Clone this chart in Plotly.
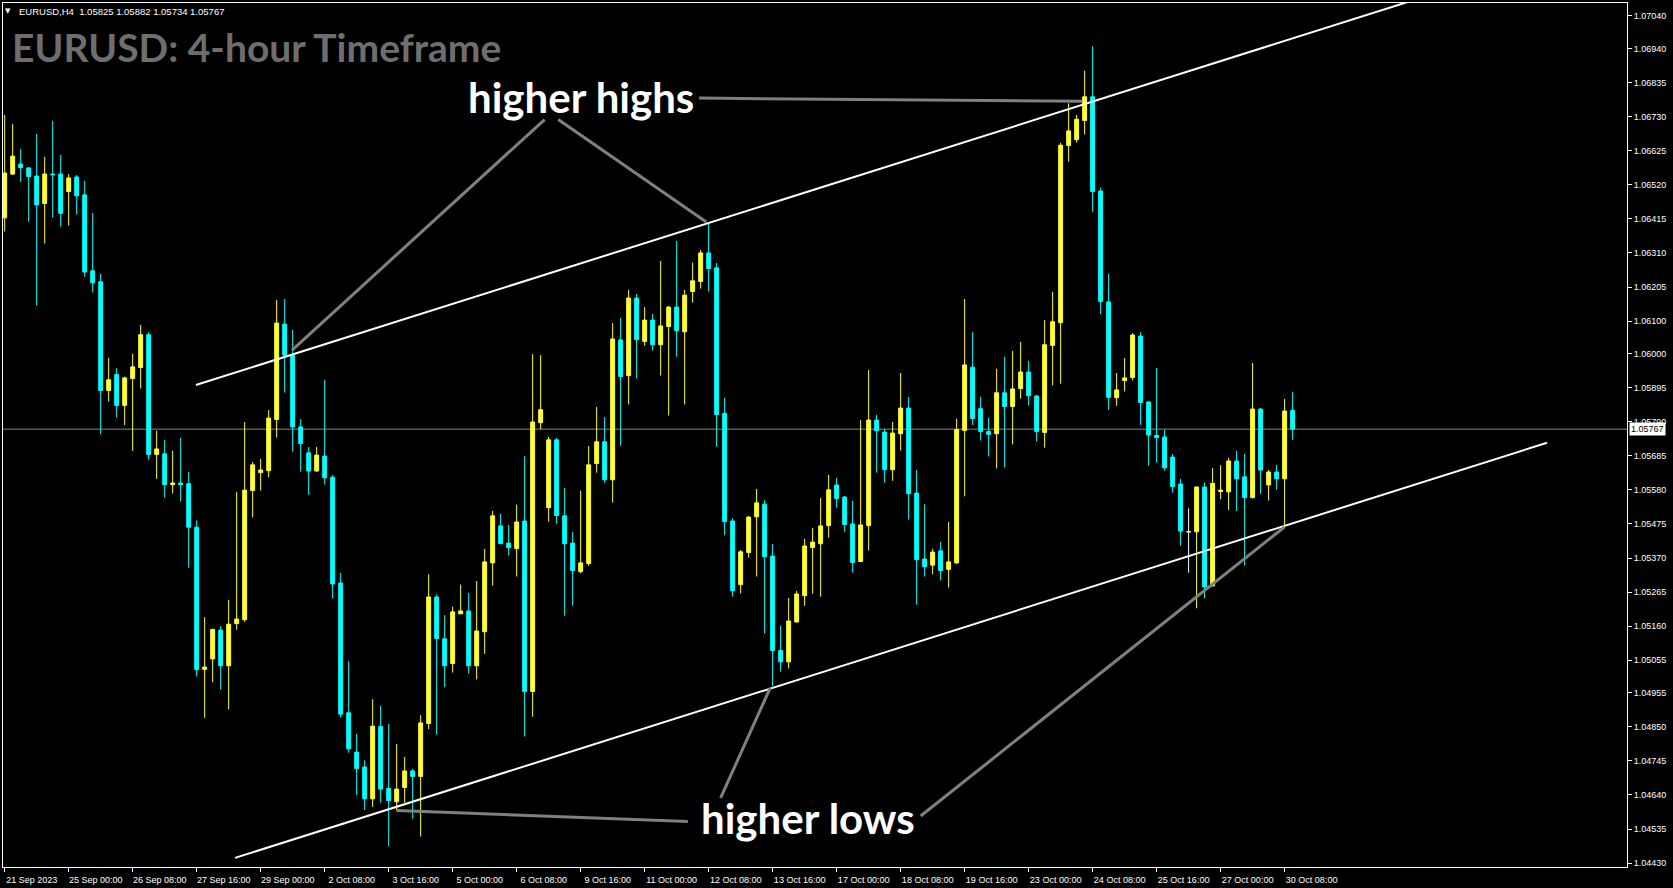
import plotly.graph_objects as go

# ---- EURUSD H4 candles (21 Sep 2023 16:00 ... 30 Oct 2023 12:00) ----
open_ = [1.06418, 1.06553, 1.06584, 1.06572, 1.06547, 1.06462, 1.06553, 1.06553, 1.06499, 1.06544,
         1.06489, 1.06255, 1.06221, 1.05886, 1.05935, 1.05840, 1.05923, 1.05957, 1.06058, 1.05689,
         1.05691, 1.05596, 1.05601, 1.05599, 1.05465, 1.05027, 1.05059, 1.05148, 1.05038, 1.05168,
         1.05180, 1.05578, 1.05633, 1.05639, 1.05797, 1.06091, 1.05994, 1.05774, 1.05694, 1.05638,
         1.05684, 1.05619, 1.05293, 1.04893, 1.04772, 1.04726, 1.04628, 1.04851, 1.04660, 1.04619,
         1.04663, 1.04714, 1.04697, 1.04860, 1.05250, 1.05121, 1.05045, 1.05198, 1.05207, 1.05038,
         1.05143, 1.05355, 1.05469, 1.05416, 1.05399, 1.05484, 1.04959, 1.05787, 1.05525, 1.05734,
         1.05500, 1.05416, 1.05328, 1.05353, 1.05661, 1.05728, 1.05611, 1.06042, 1.05932, 1.06171,
         1.06037, 1.06103, 1.06027, 1.06083, 1.06143, 1.06067, 1.06191, 1.06222, 1.06310, 1.06264,
         1.05816, 1.05484, 1.05288, 1.05387, 1.05497, 1.05536, 1.05376, 1.05085, 1.05050, 1.05173,
         1.05254, 1.05402, 1.05414, 1.05470, 1.05595, 1.05558, 1.05475, 1.05359, 1.05470, 1.05795,
         1.05758, 1.05642, 1.05753, 1.05832, 1.05570, 1.05367, 1.05348, 1.05392, 1.05335, 1.05355,
         1.05763, 1.05958, 1.05830, 1.05760, 1.05753, 1.05879, 1.05837, 1.05892, 1.05943, 1.05869,
         1.05757, 1.06025, 1.06095, 1.06641, 1.06659, 1.06718, 1.06791, 1.06501, 1.06159, 1.05864,
         1.05917, 1.05926, 1.06054, 1.05851, 1.05748, 1.05743, 1.05681, 1.05598, 1.05451, 1.05451,
         1.05589, 1.05284, 1.05575, 1.05574, 1.05669, 1.05620, 1.05556, 1.05829, 1.05595, 1.05635,
         1.05614, 1.05825]
high = [1.06735, 1.06707, 1.06630, 1.06574, 1.06676, 1.06606, 1.06717, 1.06612, 1.06553, 1.06550,
        1.06532, 1.06433, 1.06245, 1.05987, 1.05955, 1.05929, 1.05999, 1.06088, 1.06066, 1.05762,
        1.05734, 1.05700, 1.05740, 1.05635, 1.05486, 1.05188, 1.05152, 1.05160, 1.05241, 1.05573,
        1.05789, 1.05666, 1.05675, 1.05826, 1.06165, 1.06168, 1.06073, 1.05798, 1.05712, 1.05712,
        1.05919, 1.05626, 1.05324, 1.05052, 1.04828, 1.04747, 1.04935, 1.04914, 1.04859, 1.04797,
        1.04757, 1.04720, 1.04886, 1.05320, 1.05258, 1.05194, 1.05220, 1.05288, 1.05262, 1.05299,
        1.05398, 1.05515, 1.05506, 1.05472, 1.05534, 1.05684, 1.05998, 1.05995, 1.05743, 1.05740,
        1.05586, 1.05450, 1.05577, 1.05715, 1.05835, 1.05804, 1.06094, 1.06110, 1.06196, 1.06184,
        1.06143, 1.06122, 1.06285, 1.06147, 1.06347, 1.06196, 1.06280, 1.06319, 1.06401, 1.06279,
        1.05863, 1.05492, 1.05395, 1.05500, 1.05583, 1.05549, 1.05413, 1.05161, 1.05247, 1.05268,
        1.05429, 1.05463, 1.05555, 1.05626, 1.05617, 1.05561, 1.05546, 1.05795, 1.05949, 1.05811,
        1.05768, 1.05789, 1.05940, 1.05866, 1.05641, 1.05536, 1.05398, 1.05420, 1.05481, 1.05799,
        1.06168, 1.06066, 1.05867, 1.05802, 1.05953, 1.05990, 1.06008, 1.06036, 1.05977, 1.05873,
        1.06103, 1.06190, 1.06649, 1.06771, 1.06735, 1.06871, 1.06947, 1.06512, 1.06246, 1.05940,
        1.05986, 1.06063, 1.06066, 1.05851, 1.05955, 1.05765, 1.05690, 1.05614, 1.05523, 1.05589,
        1.05603, 1.05647, 1.05656, 1.05678, 1.05700, 1.05691, 1.05971, 1.05832, 1.05641, 1.05657,
        1.05860, 1.05882]
low = [1.06376, 1.06550, 1.06529, 1.06406, 1.06148, 1.06339, 1.06419, 1.06391, 1.06394, 1.06428,
       1.06237, 1.06188, 1.05751, 1.05852, 1.05803, 1.05780, 1.05700, 1.05892, 1.05673, 1.05614,
       1.05556, 1.05569, 1.05544, 1.05340, 1.05005, 1.04878, 1.04987, 1.04965, 1.04904, 1.05149,
       1.05173, 1.05495, 1.05578, 1.05619, 1.05741, 1.05880, 1.05698, 1.05636, 1.05565, 1.05636,
       1.05596, 1.05245, 1.04878, 1.04770, 1.04640, 1.04594, 1.04603, 1.04616, 1.04482, 1.04592,
       1.04616, 1.04567, 1.04512, 1.04843, 1.04826, 1.04972, 1.05017, 1.05198, 1.05014, 1.04996,
       1.05075, 1.05285, 1.05412, 1.05378, 1.05313, 1.04820, 1.04881, 1.05767, 1.05482, 1.05476,
       1.05192, 1.05223, 1.05323, 1.05346, 1.05633, 1.05602, 1.05541, 1.05716, 1.05843, 1.05923,
       1.06024, 1.06009, 1.05932, 1.05809, 1.05990, 1.05843, 1.06157, 1.06200, 1.06191, 1.05713,
       1.05440, 1.05251, 1.05261, 1.05371, 1.05313, 1.05138, 1.04975, 1.05020, 1.05030, 1.05171,
       1.05223, 1.05260, 1.05251, 1.05433, 1.05525, 1.05451, 1.05325, 1.05359, 1.05393, 1.05633,
       1.05602, 1.05608, 1.05701, 1.05488, 1.05226, 1.05313, 1.05320, 1.05301, 1.05279, 1.05351,
       1.05560, 1.05780, 1.05732, 1.05683, 1.05646, 1.05649, 1.05720, 1.05861, 1.05840, 1.05729,
       1.05710, 1.05902, 1.05907, 1.06591, 1.06650, 1.06675, 1.06437, 1.06121, 1.05827, 1.05839,
       1.05883, 1.05917, 1.05780, 1.05655, 1.05664, 1.05639, 1.05571, 1.05408, 1.05325, 1.05215,
       1.05246, 1.05284, 1.05551, 1.05518, 1.05515, 1.05347, 1.05554, 1.05568, 1.05547, 1.05581,
       1.05470, 1.05734]
close = [1.06556, 1.06608, 1.06573, 1.06545, 1.06458, 1.06553, 1.06551, 1.06432, 1.06541, 1.06486,
         1.06251, 1.06218, 1.05886, 1.05919, 1.05840, 1.05925, 1.05959, 1.06058, 1.05689, 1.05706,
         1.05596, 1.05601, 1.05596, 1.05465, 1.05026, 1.05034, 1.05150, 1.05038, 1.05166, 1.05182,
         1.05579, 1.05657, 1.05641, 1.05801, 1.06094, 1.05995, 1.05774, 1.05723, 1.05638, 1.05687,
         1.05617, 1.05290, 1.04889, 1.04782, 1.04721, 1.04628, 1.04852, 1.04658, 1.04622, 1.04658,
         1.04714, 1.04697, 1.04862, 1.05250, 1.05122, 1.05038, 1.05204, 1.05207, 1.05038, 1.05145,
         1.05358, 1.05500, 1.05415, 1.05402, 1.05481, 1.04959, 1.05789, 1.05827, 1.05734, 1.05501,
         1.05414, 1.05331, 1.05355, 1.05657, 1.05728, 1.05611, 1.06045, 1.05929, 1.06171, 1.06043,
         1.06103, 1.06027, 1.06085, 1.06143, 1.06070, 1.06180, 1.06224, 1.06310, 1.06262, 1.05812,
         1.05482, 1.05269, 1.05389, 1.05496, 1.05540, 1.05374, 1.05085, 1.05050, 1.05176, 1.05259,
         1.05407, 1.05419, 1.05469, 1.05580, 1.05553, 1.05473, 1.05356, 1.05472, 1.05795, 1.05762,
         1.05642, 1.05755, 1.05832, 1.05568, 1.05365, 1.05343, 1.05388, 1.05331, 1.05358, 1.05766,
         1.05965, 1.05800, 1.05760, 1.05751, 1.05879, 1.05837, 1.05891, 1.05943, 1.05870, 1.05760,
         1.06027, 1.06098, 1.06642, 1.06686, 1.06722, 1.06791, 1.06499, 1.06160, 1.05865, 1.05888,
         1.05925, 1.06057, 1.05849, 1.05749, 1.05741, 1.05648, 1.05590, 1.05453, 1.05451, 1.05589,
         1.05281, 1.05600, 1.05579, 1.05669, 1.05614, 1.05556, 1.05829, 1.05641, 1.05635, 1.05614,
         1.05823, 1.05767]

# time-axis labels (one every 8 bars) and price-axis labels
time_labels = ["21 Sep 2023", "25 Sep 00:00", "26 Sep 08:00", "27 Sep 16:00", "29 Sep 00:00",
               "2 Oct 08:00", "3 Oct 16:00", "5 Oct 00:00", "6 Oct 08:00", "9 Oct 16:00",
               "11 Oct 00:00", "12 Oct 08:00", "13 Oct 16:00", "17 Oct 00:00", "18 Oct 08:00",
               "19 Oct 16:00", "23 Oct 00:00", "24 Oct 08:00", "25 Oct 16:00", "27 Oct 00:00",
               "30 Oct 08:00"]
bars_per_label = 8
price_labels = ["1.07040", "1.06940", "1.06835", "1.06730", "1.06625", "1.06520", "1.06415",
                "1.06310", "1.06205", "1.06100", "1.06000", "1.05895", "1.05790", "1.05685",
                "1.05580", "1.05475", "1.05370", "1.05265", "1.05160", "1.05055", "1.04955",
                "1.04850", "1.04745", "1.04640", "1.04535", "1.04430"]

# channel trend lines (bar index, price)
upper_channel_bar = [23.9, 180.0]
upper_channel_price = [1.05903, 1.07119]
lower_channel_bar = [28.8, 192.8]
lower_channel_price = [1.04446, 1.05725]

# annotation pointer lines (bar index, price)
hh_left_bar, hh_left_price = [67.5, 35.9], [1.06721, 1.06010]
hh_right_bar, hh_right_price = [69.2, 87.7], [1.06721, 1.06405]
hh_top_bar, hh_top_price = [86.8, 134.7], [1.06787, 1.06777]
hl_left_bar, hl_left_price = [85.4, 49.0], [1.04558, 1.04592]
hl_mid_bar, hl_mid_price = [89.5, 95.7], [1.04631, 1.04970]
hl_right_bar, hl_right_price = [114.5, 160.0], [1.04575, 1.05466]

n = len(close)
bars = list(range(n))
normal = [i for i in bars if open_[i] != close[i]]
doji = [i for i in bars if open_[i] == close[i]]

YELLOW = "#ffff33"
CYAN = "#00ffff"

fig = go.Figure()
fig.add_trace(go.Candlestick(
    x=normal,
    open=[open_[i] for i in normal], high=[high[i] for i in normal],
    low=[low[i] for i in normal], close=[close[i] for i in normal],
    increasing=dict(line=dict(color=YELLOW, width=1), fillcolor=YELLOW),
    decreasing=dict(line=dict(color=CYAN, width=1), fillcolor=CYAN),
    showlegend=False, hoverinfo="skip"))
if doji:
    fig.add_trace(go.Candlestick(
        x=doji,
        open=[open_[i] for i in doji], high=[high[i] for i in doji],
        low=[low[i] for i in doji], close=[close[i] for i in doji],
        increasing=dict(line=dict(color="white", width=1), fillcolor="white"),
        decreasing=dict(line=dict(color="white", width=1), fillcolor="white"),
        showlegend=False, hoverinfo="skip"))

for bx, py in [(upper_channel_bar, upper_channel_price), (lower_channel_bar, lower_channel_price)]:
    fig.add_trace(go.Scatter(x=bx, y=py, mode="lines", line=dict(color="white", width=2),
                             showlegend=False, hoverinfo="skip"))

for bx, py in [(hh_left_bar, hh_left_price), (hh_right_bar, hh_right_price),
               (hh_top_bar, hh_top_price), (hl_left_bar, hl_left_price),
               (hl_mid_bar, hl_mid_price), (hl_right_bar, hl_right_price)]:
    fig.add_trace(go.Scatter(x=bx, y=py, mode="lines", line=dict(color="#808080", width=3),
                             showlegend=False, hoverinfo="skip"))

# current price line
fig.add_shape(type="line", xref="paper", x0=0, x1=1, yref="y", y0=close[-1], y1=close[-1],
              line=dict(color="#8f8578", width=1), layer="below")

W, H = 1673, 888
ML, MR, MT, MB = 3, 46, 3, 21
PW, PH = W - ML - MR, H - MT - MB


def px(xp):
    return (xp - ML) / PW


def py_(yp):
    return (H - MB - yp) / PH


annotations = [
    dict(text="<b>EURUSD: 4-hour Timeframe</b>", xref="paper", yref="paper",
         x=px(10), y=py_(47), xanchor="left", yanchor="middle", showarrow=False,
         font=dict(family="Lato", size=39, color="#6e6e6e")),
    dict(text="▼", xref="paper", yref="paper", x=px(8), y=py_(11), xanchor="center",
         yanchor="middle", showarrow=False, font=dict(family="DejaVu Sans", size=7, color="white")),
    dict(text=f"EURUSD,H4\u00a0\u00a0{open_[-1]:.5f} {high[-1]:.5f} {low[-1]:.5f} {close[-1]:.5f}",
         xref="paper", yref="paper", x=px(17), y=py_(11), xanchor="left", yanchor="middle",
         showarrow=False, font=dict(family="Liberation Sans", size=9.5, color="white")),
    dict(text="<b>higher highs</b>", xref="x", yref="y", x=72.1, y=1.06790, xanchor="center",
         yanchor="middle", showarrow=False, font=dict(family="Lato", size=42, color="white")),
    dict(text="<b>higher lows</b>", xref="x", yref="y", x=100.4, y=1.04569, xanchor="center",
         yanchor="middle", showarrow=False, font=dict(family="Lato", size=42, color="white")),
    dict(text=f"{close[-1]:.5f}", xref="paper", yref="y", x=1, y=close[-1], xanchor="left",
         yanchor="middle", xshift=2, showarrow=False, bgcolor="white", borderpad=1,
         font=dict(family="Liberation Sans", size=9, color="black")),
]

fig.update_layout(
    width=W, height=H,
    margin=dict(l=ML, r=MR, t=MT, b=MB, pad=0),
    paper_bgcolor="black", plot_bgcolor="black",
    showlegend=False, hovermode=False,
    annotations=annotations,
    xaxis=dict(
        range=[-0.21, 202.8],
        tickvals=[k * bars_per_label for k in range(len(time_labels))],
        ticktext=time_labels,
        ticks="outside", ticklen=4, tickcolor="white",
        tickfont=dict(family="Liberation Sans", size=9, color="white"),
        ticklabelshift=27,
        showline=True, linecolor="white", linewidth=1, mirror=True,
        showgrid=False, zeroline=False,
        rangeslider=dict(visible=False),
    ),
    yaxis=dict(
        side="right",
        range=[1.04418, 1.07080],
        tickvals=[float(v) for v in price_labels],
        ticktext=price_labels,
        ticks="outside", ticklen=4, tickcolor="white",
        tickfont=dict(family="Liberation Sans", size=9, color="white"),
        showline=True, linecolor="white", linewidth=1, mirror=True,
        showgrid=False, zeroline=False,
    ),
)

page_fix = ("document.body.style.margin='0';document.body.style.padding='0';"
            "document.body.style.overflow='hidden';"
            "document.documentElement.style.overflow='hidden';")
fig.write_html("out.html", post_script=page_fix,
               config={"responsive": False, "displayModeBar": False})
